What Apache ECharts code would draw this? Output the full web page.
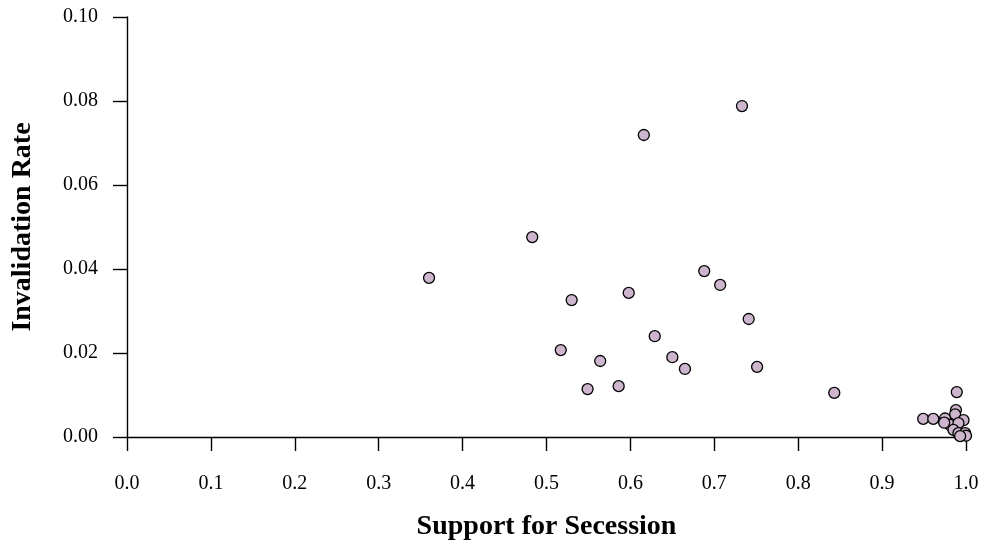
<!DOCTYPE html>
<html>
<head>
<meta charset="utf-8">
<script src="https://cdn.jsdelivr.net/npm/echarts@6/dist/echarts.min.js"></script>
<style>html,body{margin:0;padding:0;background:#fff;}#c{width:984px;height:544px;}</style>
</head>
<body>
<div id="c"></div>
<script>
var support = [0.360,0.483,0.517,0.530,0.549,0.564,0.586,0.598,0.616,0.629,0.650,0.665,0.688,0.707,0.733,0.741,0.751,0.843,0.949,0.961,0.989,0.988,0.987,0.975,0.997,0.981,0.991,0.985,0.991,0.999,1.000,0.993,0.974];
var invalidation = [0.0379,0.0476,0.0207,0.0326,0.0114,0.0181,0.0121,0.0343,0.0719,0.0240,0.0190,0.0162,0.0395,0.0362,0.0788,0.0281,0.0167,0.0105,0.0043,0.0043,0.0107,0.0064,0.0054,0.0044,0.0040,0.0029,0.0033,0.0017,0.0009,0.0009,0.0003,0.0002,0.0034];
var xTitle = 'Support for Secession';
var yTitle = 'Invalidation Rate';

var pts = support.map(function(v,i){return [v, invalidation[i]];});
var font = '"Liberation Serif", "Times New Roman", serif';
var chart = echarts.init(document.getElementById('c'), null, {renderer:'canvas'});
chart.setOption({
  animation:false,
  backgroundColor:'#fff',
  grid:{left:127,right:18,top:17,bottom:107,containLabel:false,outerBoundsMode:'none'},
  xAxis:{
    type:'value',min:0,max:1,interval:0.1,
    name:xTitle,nameLocation:'middle',nameGap:76,
    nameTextStyle:{fontFamily:font,fontSize:28,fontWeight:'bold',color:'#000'},
    axisLine:{show:true,onZero:false,lineStyle:{color:'#000',width:1.4}},
    axisTick:{show:true,length:14,lineStyle:{color:'#000',width:1.4}},
    axisLabel:{margin:37,fontFamily:font,fontSize:20,color:'#000',formatter:function(v){return v.toFixed(1);}},
    splitLine:{show:false}
  },
  yAxis:{
    type:'value',min:0,max:0.1,interval:0.02,
    name:yTitle,nameLocation:'middle',nameGap:90,nameRotate:90,
    nameTextStyle:{fontFamily:font,fontSize:28,fontWeight:'bold',color:'#000'},
    axisLine:{show:true,onZero:false,lineStyle:{color:'#000',width:1.4}},
    axisTick:{show:true,length:14,lineStyle:{color:'#000',width:1.4}},
    axisLabel:{margin:29,fontFamily:font,fontSize:20,color:'#000',formatter:function(v){return v.toFixed(2);}},
    splitLine:{show:false}
  },
  series:[{
    type:'scatter',data:pts,symbol:'circle',symbolSize:11,clip:false,
    itemStyle:{color:'#cdb5cd',borderColor:'#000',borderWidth:1.3,opacity:1}
  }]
});
</script>
</body>
</html>
